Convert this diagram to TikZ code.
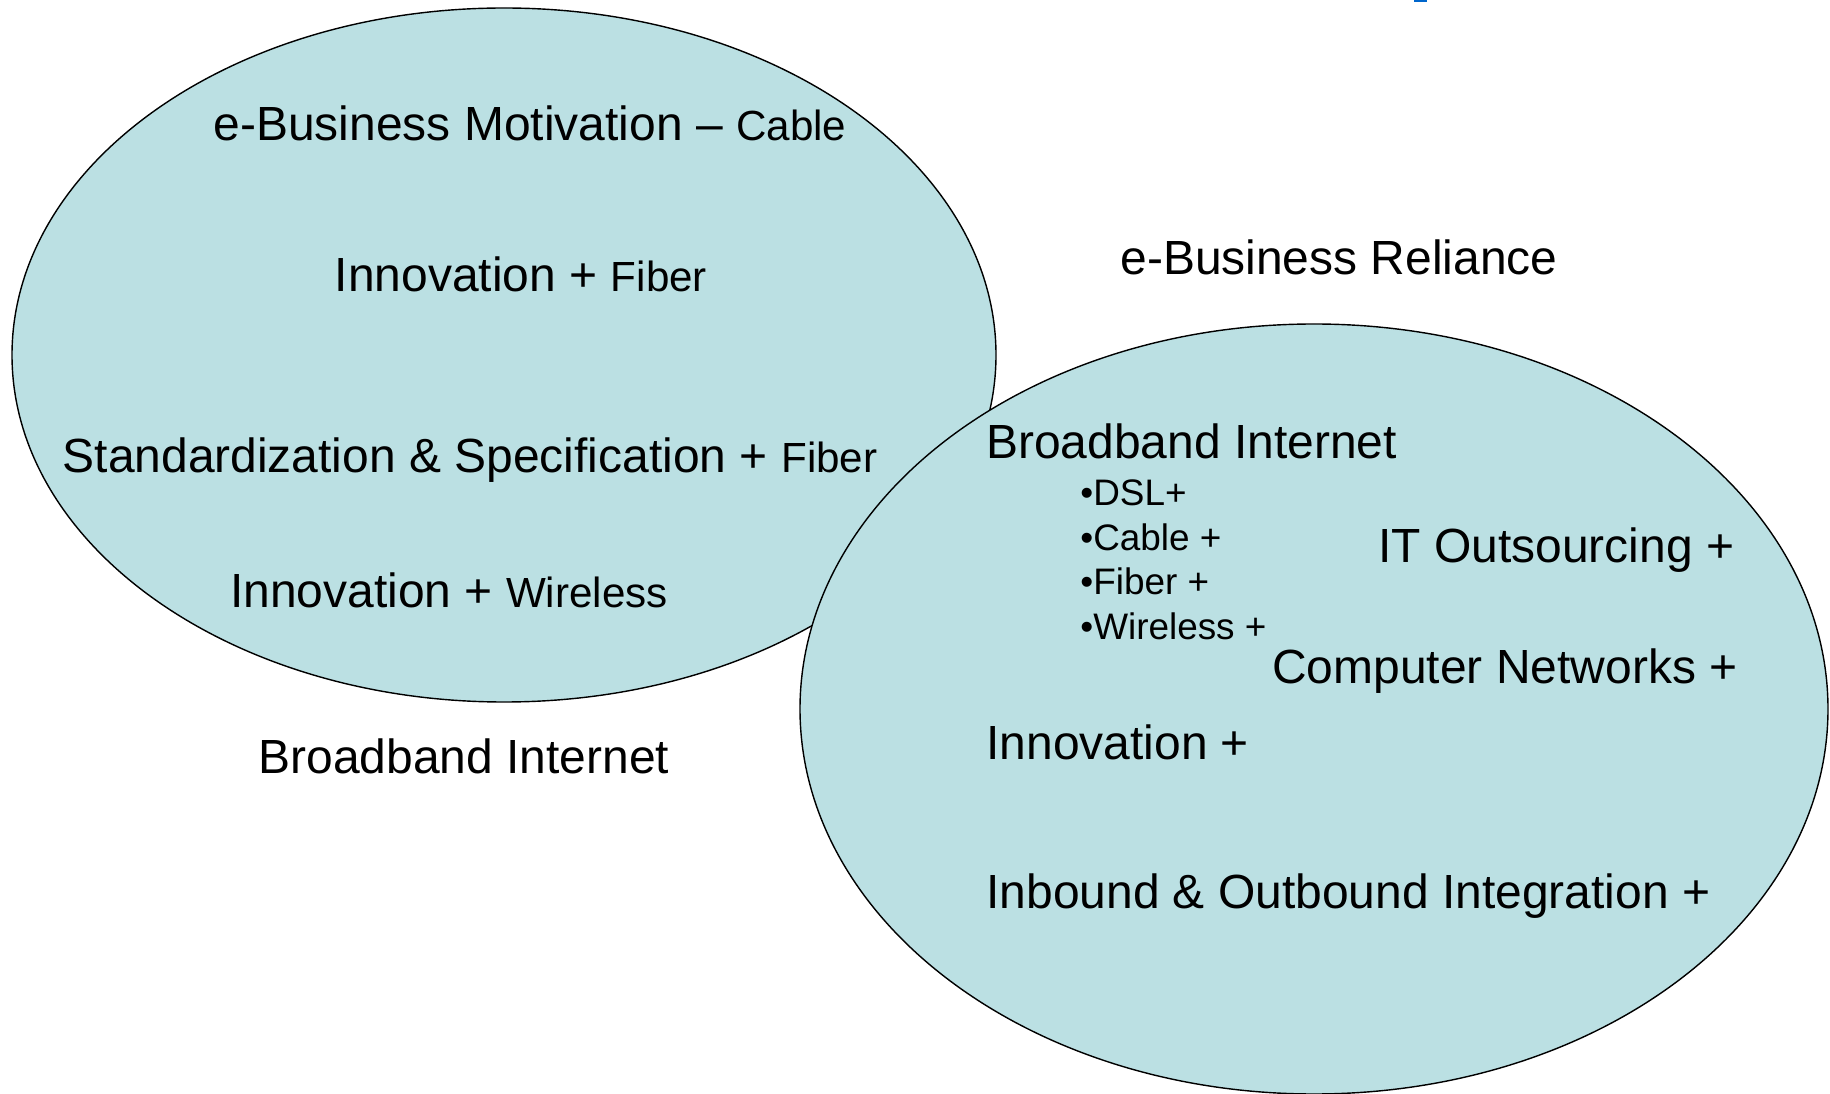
\documentclass[tikz,border=0pt]{standalone}
\usepackage{fontspec}
\setmainfont{Liberation Sans}
\usepackage{tikz}
\usetikzlibrary{positioning}
\definecolor{lightteal}{HTML}{BBE0E3}
\definecolor{markblue}{HTML}{0066CC}

\begin{document}
\begin{tikzpicture}[x=0.02cm,y=-0.02cm,
		bigtext/.style={font=\fontsize{27.3}{32}\selectfont, inner sep=0pt},
		smalltext/.style={font=\fontsize{21}{25}\selectfont, inner sep=0pt, anchor=west},
		bubble/.style={draw=black, line width=0.8pt, fill=lightteal}]
		\useasboundingbox (0,0) rectangle (1830,1094);
		\fill [markblue] (1414,0) rectangle (1427,2);

		\draw [bubble] (504,355) ellipse [x radius=492, y radius=347];
		\draw [bubble] (1314,709) ellipse [x radius=514, y radius=385];

		% left circle
		\draw (530,123) node [bigtext] (motiv) {e-Business Motivation -- {\fontsize{24}{28}\selectfont Cable}};
		\draw (521,274) node [bigtext] (innofiber) {Innovation + {\fontsize{24}{28}\selectfont Fiber}};
		\draw (470,460) node [bigtext] (standard) {Standardization \& Specification + {\fontsize{24}{28}\selectfont Fiber}};
		\draw (449,590) node [bigtext] (innowire) {Innovation + {\fontsize{24}{28}\selectfont Wireless}};
		\draw (464,756) node [bigtext] (bbout) {Broadband Internet};
		\draw (1339,257) node [bigtext] (reliance) {e-Business Reliance};

		% right circle
		\draw (986,441) node [bigtext, anchor=west] (bbin) {Broadband Internet};
		\draw (1080,493) node [smalltext] (dsl) {•DSL+};
		\draw (1080,537) node [smalltext] (cable) {•Cable +};
		\draw (1080,581) node [smalltext] (fiber) {•Fiber +};
		\draw (1080,626) node [smalltext] (wireless) {•Wireless +};
		\draw (1378,550) node [bigtext, anchor=west] (itout) {IT Outsourcing +};
		\draw (1272,671) node [bigtext, anchor=west] (compnet) {Computer Networks +};
		\draw (986,742) node [bigtext, anchor=west] (innoplus) {Innovation +};
		\draw (986,896) node [bigtext, anchor=west] (inbound) {Inbound \& Outbound Integration +};
	\end{tikzpicture}
\end{document}
